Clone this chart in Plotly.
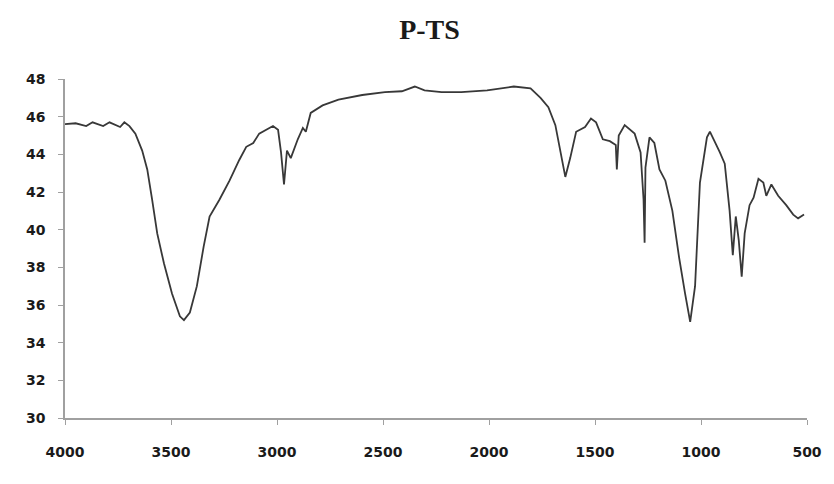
import plotly.graph_objects as go

wavenumber = [4000, 3950, 3900, 3870, 3820, 3790, 3740, 3720, 3696, 3668, 3636, 3612, 3589, 3565,
              3533, 3495, 3458, 3439, 3411, 3378, 3346, 3318, 3271, 3224, 3178, 3145, 3112,
              3084, 3019, 2995, 2981, 2967, 2953, 2935, 2902, 2878, 2864, 2841, 2785, 2710,
              2598, 2491, 2411, 2350, 2304, 2224, 2131, 2009, 1883, 1804, 1757, 1720, 1687,
              1664, 1640, 1617, 1589, 1547, 1519, 1495, 1463, 1430, 1402, 1397, 1388, 1360,
              1313, 1285, 1271, 1266, 1262, 1243, 1220, 1196, 1168, 1135, 1103, 1075, 1051,
              1028, 1005, 972, 958, 911, 888, 865, 850, 836, 822, 808, 794, 771, 752, 729,
              706, 692, 668, 636, 598, 565, 542, 514]
transmittance = [45.6, 45.65, 45.5, 45.7, 45.5, 45.7, 45.45, 45.7, 45.5, 45.1, 44.2, 43.2, 41.6, 39.8,
                 38.2, 36.6, 35.4, 35.2, 35.6, 37.0, 39.1, 40.7, 41.6, 42.6, 43.7, 44.4, 44.6,
                 45.1, 45.5, 45.3, 44.1, 42.4, 44.2, 43.8, 44.8, 45.4, 45.2, 46.2, 46.6, 46.9,
                 47.15, 47.3, 47.35, 47.6, 47.4, 47.3, 47.3, 47.4, 47.6, 47.5, 47.0, 46.5, 45.55,
                 44.1, 42.8, 43.8, 45.2, 45.45, 45.9, 45.7, 44.8, 44.7, 44.5, 43.2, 45.0, 45.55,
                 45.1, 44.1, 41.6, 39.3, 43.3, 44.9, 44.6, 43.2, 42.6, 41.0, 38.5, 36.6, 35.1,
                 37.0, 42.5, 44.9, 45.2, 44.1, 43.5, 41.0, 38.65, 40.7, 39.45, 37.5, 39.8, 41.3,
                 41.7, 42.7, 42.5, 41.8, 42.4, 41.8, 41.3, 40.8, 40.6, 40.8]

x_ticks = [4000, 3500, 3000, 2500, 2000, 1500, 1000, 500]
y_ticks = [30, 32, 34, 36, 38, 40, 42, 44, 46, 48]

fig = go.Figure()
fig.add_trace(go.Scatter(x=wavenumber, y=transmittance, mode="lines",
                         line=dict(color="#383838", width=1.8), showlegend=False))

tickfont = dict(family="DejaVu Sans", size=14, color="#1a1a1a", weight="bold")
fig.update_layout(
    width=834, height=484,
    margin=dict(l=65, r=18, t=79, b=66),
    paper_bgcolor="white", plot_bgcolor="white",
    title=dict(text="<b>P-TS</b>", x=0.515, xanchor="center", y=0.94, yanchor="middle",
               font=dict(family="Liberation Serif", size=28, color="#1a1a1a")),
    xaxis=dict(range=[4000, 500], tickvals=x_ticks, ticktext=[str(v) for v in x_ticks],
               showgrid=False, zeroline=False, showline=True, linecolor="#a0a0a0", linewidth=1.5,
               ticks="outside", ticklen=5, tickcolor="#a0a0a0", tickfont=tickfont,
               ticklabelstandoff=15),
    yaxis=dict(range=[30, 48], tickvals=y_ticks, ticktext=[str(v) for v in y_ticks],
               showgrid=False, zeroline=False, showline=True, linecolor="#a0a0a0", linewidth=1.5,
               ticks="outside", ticklen=5, tickcolor="#a0a0a0", tickfont=tickfont,
               ticklabelstandoff=10),
)
fig.write_html("out.html")
